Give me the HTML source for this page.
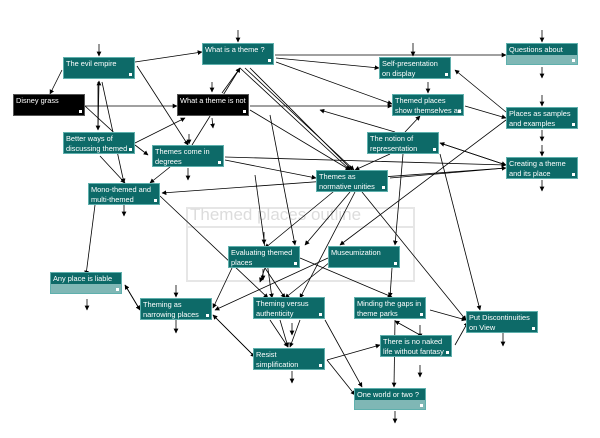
<!DOCTYPE html>
<html><head><meta charset="utf-8"><style>
body{margin:0;background:#fff;width:600px;height:438px;overflow:hidden;position:relative;font-family:"Liberation Sans",sans-serif}
.n{position:absolute;width:72px;height:22px;background:#0d6a68;border:1px solid #5fb0ad;box-sizing:border-box;color:#fff;font-size:7.4px;line-height:10px;padding:1px 2px;white-space:nowrap;overflow:hidden}
.n:after{content:"";position:absolute;right:2px;bottom:2px;width:3px;height:3px;background:#fff}
.b{background:#000;border-color:#555}
.band{position:absolute;left:0;right:0;bottom:0;height:9px;background:#7fb7b5}
svg{position:absolute;left:0;top:0}
</style></head><body>
<div style="position:absolute;left:186px;top:207px;width:229px;height:75px;border:2px solid #e6e6e6;box-sizing:border-box"></div>
<div style="position:absolute;left:188px;top:226px;width:225px;height:2px;background:#e6e6e6"></div>
<div style="position:absolute;left:190px;top:205px;font-size:17px;color:#dcdcdc;font-family:'Liberation Sans',sans-serif">Themed places outline</div>
<svg width="600" height="438" viewBox="0 0 600 438">
<defs><marker id="a" viewBox="0 0 10 10" refX="9" refY="5" markerWidth="6" markerHeight="6" orient="auto"><path d="M0,0L10,5L0,10z" fill="#000"/></marker></defs>
<g stroke="#000" stroke-width="0.8" fill="none" marker-end="url(#a)">
<path d="M135,62L202,52"/><path d="M137,66L188,145"/><path d="M62,70L50,94"/><path d="M85,106L177,106"/>
<path d="M85,106L122,140"/><path d="M98,82L98,130"/><path d="M98,130L99,81"/><path d="M102,82L124,183"/>
<path d="M135,143L185,118"/><path d="M135,145L148,155"/><path d="M100,156L125,183"/>
<path d="M192,145L240,68"/><path d="M222,93L240,68"/><path d="M212,82L212,92"/><path d="M212,118L213,128"/>
<path d="M225,157L506,165"/><path d="M225,160L316,178"/><path d="M506,168L162,193"/><path d="M160,196L268,298"/>
<path d="M95,205L86,275"/><path d="M170,167L150,183"/><path d="M275,55L506,55"/>
<path d="M276,58L379,68"/><path d="M276,62L392,104"/><path d="M250,68L352,170"/><path d="M245,68L354,170"/>
<path d="M240,68L350,170"/><path d="M250,106L392,106"/><path d="M250,110L350,170"/>
<path d="M465,106L506,118"/><path d="M506,112L455,70"/><path d="M506,120L340,245"/>
<path d="M440,143L506,165"/><path d="M506,165L440,143"/><path d="M390,178L506,168"/>
<path d="M405,132L420,116"/><path d="M395,132L320,110"/><path d="M403,154L395,245"/><path d="M440,154L480,310"/>
<path d="M355,192L300,298"/><path d="M362,192L466,320"/><path d="M350,192L305,245"/><path d="M390,154L355,170"/>
<path d="M232,268L213,308"/><path d="M328,258L215,310"/><path d="M330,262L285,298"/><path d="M392,268L390,297"/>
<path d="M300,258L392,297"/><path d="M265,268L285,298"/><path d="M265,268L260,282"/><path d="M255,175L272,298"/>
<path d="M280,320L288,347"/><path d="M300,320L290,347"/><path d="M270,320L288,347"/>
<path d="M125,285L140,310"/><path d="M140,310L125,285"/><path d="M213,315L255,357"/><path d="M255,357L213,315"/>
<path d="M325,320L362,387"/><path d="M327,360L380,345"/><path d="M327,360L355,395"/>
<path d="M430,310L466,320"/><path d="M455,345L468,322"/><path d="M395,320L394,387"/><path d="M420,335L395,321"/>
<path d="M350,178L265,248"/><path d="M270,115L295,245"/>
</g>
<g stroke="#000" stroke-width="0.8" marker-end="url(#a)">
<path d="M99,44V56"/><path d="M238,30V42"/><path d="M413,43V56"/><path d="M542,30V42"/>
<path d="M542,67V78"/><path d="M542,95V106"/><path d="M542,130V141"/><path d="M542,145V156"/><path d="M542,180V191"/>
<path d="M428,82V93"/><path d="M189,134V144"/><path d="M124,205V216"/><path d="M188,168V180"/>
<path d="M264,232V244"/><path d="M263,269V280"/><path d="M87,299V310"/><path d="M176,285V297"/><path d="M176,320V333"/>
<path d="M292,323V335"/><path d="M292,371V383"/><path d="M420,325V338"/><path d="M420,365V377"/><path d="M503,333V346"/><path d="M395,411V423"/>
</g>
</svg>
<div class="n" style="left:63px;top:57px">The evil empire</div>
<div class="n" style="left:202px;top:43px">What is a theme ?</div>
<div class="n b" style="left:13px;top:94px">Disney grass</div>
<div class="n b" style="left:177px;top:94px">What a theme is not</div>
<div class="n" style="left:63px;top:132px">Better ways of<br>discussing themed</div>
<div class="n" style="left:152px;top:145px">Themes come in<br>degrees</div>
<div class="n" style="left:88px;top:183px">Mono-themed and<br>multi-themed</div>
<div class="n" style="left:379px;top:57px">Self-presentation<br>on display</div>
<div class="n" style="left:506px;top:43px">Questions about<div class="band"></div></div>
<div class="n" style="left:392px;top:94px">Themed places<br>show themselves as</div>
<div class="n" style="left:506px;top:107px">Places as samples<br>and examples</div>
<div class="n" style="left:367px;top:132px">The notion of<br>representation</div>
<div class="n" style="left:506px;top:157px">Creating a theme<br>and its place</div>
<div class="n" style="left:316px;top:170px">Themes as<br>normative unities</div>
<div class="n" style="left:228px;top:246px">Evaluating themed<br>places</div>
<div class="n" style="left:328px;top:246px">Museumization</div>
<div class="n" style="left:50px;top:272px">Any place is liable<div class="band"></div></div>
<div class="n" style="left:140px;top:298px">Theming as<br>narrowing places</div>
<div class="n" style="left:253px;top:297px">Theming versus<br>authenticity</div>
<div class="n" style="left:354px;top:297px">Minding the gaps in<br>theme parks</div>
<div class="n" style="left:466px;top:311px">Put Discontinuities<br>on View</div>
<div class="n" style="left:380px;top:335px">There is no naked<br>life without fantasy</div>
<div class="n" style="left:253px;top:348px">Resist<br>simplification</div>
<div class="n" style="left:354px;top:388px">One world or two ?<div class="band"></div></div>
</body></html>
